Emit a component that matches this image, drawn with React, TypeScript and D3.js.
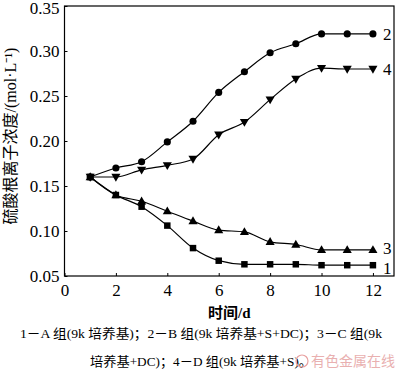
import React, { useEffect, useRef } from "react";
import * as d3 from "d3";

const days = [1, 2, 3, 4, 5, 6, 7, 8, 9, 10, 11, 12];
const groupA = [0.16, 0.14, 0.127, 0.106, 0.081, 0.067, 0.063, 0.063, 0.063, 0.062, 0.062, 0.062];
const groupB = [0.16, 0.17, 0.177, 0.199, 0.222, 0.254, 0.277, 0.298, 0.308, 0.319, 0.319, 0.319];
const groupC = [0.16, 0.14, 0.133, 0.122, 0.111, 0.101, 0.099, 0.088, 0.085, 0.079, 0.079, 0.079];
const groupD = [0.16, 0.16, 0.168, 0.173, 0.18, 0.207, 0.221, 0.246, 0.269, 0.281, 0.28, 0.28];
const seriesLabels = ["1", "2", "3", "4"];
const xTicks = [0, 2, 4, 6, 8, 10, 12];
const yTicks = [0.05, 0.1, 0.15, 0.2, 0.25, 0.3, 0.35];
const yTitle = "硫酸根离子浓度/(mol·L⁻¹)";
const xTitle = "时间/d";
const caption1 = "1－A 组(9k 培养基)；2－B 组(9k 培养基+S+DC)；3－C 组(9k";
const caption2 = "培养基+DC)；4－D 组(9k 培养基+S)。";

const FONT = "'Liberation Serif', 'Noto Sans CJK SC', serif";

const App: React.FC = () => {
  const ref = useRef<SVGSVGElement>(null);

  useEffect(() => {
    const svg = d3.select(ref.current);
    svg.selectAll("*").remove();

    const left = 64.5, right = 394, top = 6, bottom = 276;
    const x = d3.scaleLinear().domain([0, 12.82]).range([left, right]);
    const y = d3.scaleLinear().domain([0.05, 0.35]).range([bottom, top]);

    const g = svg.append("g");

    // frame
    g.append("rect")
      .attr("x", left).attr("y", top)
      .attr("width", right - left).attr("height", bottom - top)
      .attr("fill", "none").attr("stroke", "#000").attr("stroke-width", 1.2);

    // x axis ticks + labels
    g.append("g")
      .attr("transform", `translate(0,${bottom})`)
      .call(d3.axisBottom(x).tickValues(xTicks).tickSizeInner(-3).tickSizeOuter(0).tickPadding(8))
      .call(a => a.select(".domain").remove())
      .selectAll("text")
      .style("font-family", FONT)
      .style("font-size", "17px")
      .attr("fill", "#000");

    g.append("g")
      .attr("transform", `translate(${left},0)`)
      .call(d3.axisLeft(y).tickValues(yTicks).tickFormat(d3.format(".2f")).tickSizeInner(-3).tickSizeOuter(0).tickPadding(5))
      .call(a => a.select(".domain").remove())
      .selectAll("text")
      .style("font-family", FONT)
      .style("font-size", "17px")
      .attr("fill", "#000")
      // keep the top label inside the picture
      .attr("dy", (d: any) => (d === 0.35 ? "0.42em" : "0.32em"));

    const line = d3.line<number>()
      .x((_, i) => x(days[i]))
      .y(d => y(d))
      .curve(d3.curveMonotoneX);

    const all = [groupA, groupB, groupC, groupD];
    all.forEach(vals => {
      g.append("path")
        .attr("d", line(vals))
        .attr("fill", "none")
        .attr("stroke", "#000")
        .attr("stroke-width", 1.2);
    });

    const symbols = [
      d3.symbol().type(d3.symbolSquare).size(42),
      d3.symbol().type(d3.symbolCircle).size(40),
      d3.symbol().type(d3.symbolTriangle).size(36),
      d3.symbol().type(d3.symbolTriangle).size(36),
    ];
    all.forEach((vals, s) => {
      g.append("g").selectAll("path")
        .data(vals)
        .enter().append("path")
        .attr("d", symbols[s]())
        .attr("transform", (d, i) => `translate(${x(days[i])},${y(d) + (s === 2 ? 0.5 : s === 3 ? -0.5 : 0)})${s === 3 ? " rotate(180)" : ""}`)
        .attr("fill", "#000");
    });

    // end labels
    const labelDy = [3, 0, -2, 0];
    all.forEach((vals, s) => {
      g.append("text")
        .attr("x", x(12) + 10)
        .attr("y", y(vals[vals.length - 1]) + labelDy[s])
        .attr("dy", "0.35em")
        .style("font-family", FONT)
        .style("font-size", "17px")
        .text(seriesLabels[s]);
    });

    // axis titles
    g.append("text")
      .attr("transform", `translate(16,${(top + bottom) / 2 - 5}) rotate(-90)`)
      .attr("text-anchor", "middle")
      .style("font-family", FONT)
      .style("font-size", "16px")
      .text(yTitle);

    g.append("text")
      .attr("x", (left + right) / 2)
      .attr("y", 318)
      .attr("text-anchor", "middle")
      .style("font-family", FONT)
      .style("font-size", "15px")
      .style("font-weight", "bold")
      .text(xTitle);

    g.append("text")
      .attr("x", 20)
      .attr("y", 338)
      .attr("textLength", 362)
      .attr("lengthAdjust", "spacingAndGlyphs")
      .style("font-family", FONT)
      .style("font-size", "13px")
      .text(caption1);

    g.append("text")
      .attr("x", 90)
      .attr("y", 366)
      .attr("textLength", 222)
      .attr("lengthAdjust", "spacingAndGlyphs")
      .style("font-family", FONT)
      .style("font-size", "13px")
      .text(caption2);

    // watermark
    g.append("circle")
      .attr("cx", 302).attr("cy", 361).attr("r", 6)
      .attr("fill", "none").attr("stroke", "#e8a0a0").attr("stroke-width", 1.2);
    g.append("text")
      .attr("x", 311)
      .attr("y", 366)
      .style("font-family", "'Noto Sans CJK SC', sans-serif")
      .style("font-size", "14px")
      .attr("fill", "#e6a3a3")
      .attr("opacity", 0.85)
      .text("有色金属在线");
  }, []);

  return (
    <svg ref={ref} width={400} height={369}
      style={{ position: "absolute", left: 0, top: 0, background: "#fff" }} />
  );
};

export default App;
